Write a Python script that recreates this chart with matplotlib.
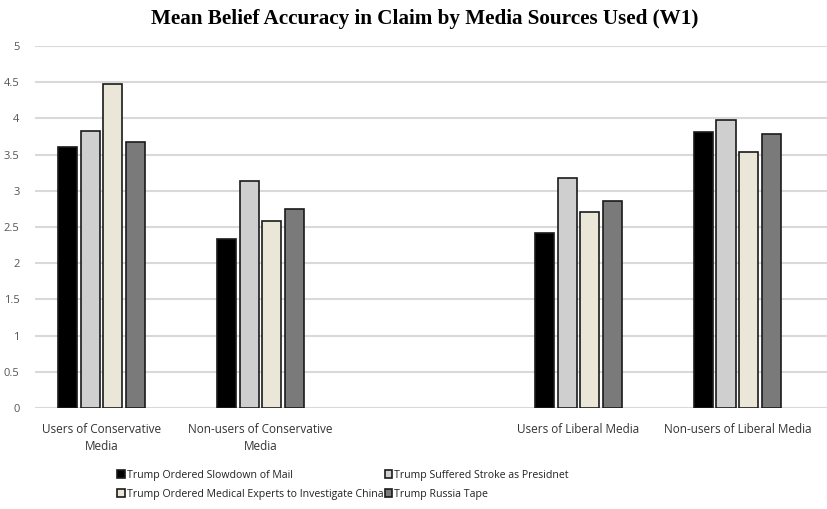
import matplotlib.pyplot as plt
import numpy as np

groups = ["Users of Conservative\nMedia", "Non-users of Conservative\nMedia", "",
          "Users of Liberal Media", "Non-users of Liberal Media"]
series = ["Trump Ordered Slowdown of Mail", "Trump Suffered Stroke as Presidnet",
          "Trump Ordered Medical Experts to Investigate China", "Trump Russia Tape"]
mail = [3.60, 2.33, np.nan, 2.42, 3.81]
stroke = [3.83, 3.14, np.nan, 3.17, 3.97]
china = [4.48, 2.58, np.nan, 2.71, 3.53]
russia = [3.67, 2.75, np.nan, 2.86, 3.79]
colors = ["#000000", "#cfcfcf", "#ebe7d8", "#7a7a7a"]

fig = plt.figure(figsize=(8.28, 5.09), dpi=100)
ax = fig.add_axes([0.042, 0.198, 0.958, 0.712])

x = np.arange(len(groups))
w = 0.143
vals = [mail, stroke, china, russia]
bars = []
for i, (v, c, s) in enumerate(zip(vals, colors, series)):
    b = ax.bar(x + (i - 1.5) * w, v, 0.12, color=c, edgecolor="#1a1a1a",
               linewidth=1.2, label=s, zorder=3)
    bars.append(b)

ax.set_ylim(0, 5)
ax.set_xlim(-0.42, 4.57)
ax.set_yticks(np.arange(0, 5.01, 0.5))
ax.set_yticklabels(["0", "0.5", "1", "1.5", "2", "2.5", "3", "3.5", "4", "4.5", "5"])
ax.set_xticks(x)
ax.set_xticklabels(groups, fontsize=8.5, color="#333333", family="Open Sans",
                   linespacing=1.35)
ax.grid(axis="y", color="#d9d9d9", linewidth=1.5, zorder=0)
ax.tick_params(axis="y", length=0, labelsize=8, labelcolor="#555555", pad=11)
ax.tick_params(axis="x", length=0, pad=11)
for lab in ax.get_yticklabels():
    lab.set_family("Open Sans")
for sp in ax.spines.values():
    sp.set_visible(False)

fig.text(0.513, 0.962, "Mean Belief Accuracy in Claim by Media Sources Used (W1)",
         ha="center", va="center", fontsize=15.2, fontweight="bold",
         family="Liberation Serif")

order = [0, 2, 1, 3]
leg = fig.legend([bars[i] for i in order], [series[i] for i in order],
                 ncol=2, loc="lower left", bbox_to_anchor=(0.13, 0.0),
                 frameon=False, handlelength=0.7, handleheight=0.7,
                 handletextpad=0.2, columnspacing=0.15, labelspacing=0.75,
                 prop={"family": "Open Sans", "size": 7.6})
for t in leg.get_texts():
    t.set_color("#222222")

fig.savefig("out.png", dpi=100)
